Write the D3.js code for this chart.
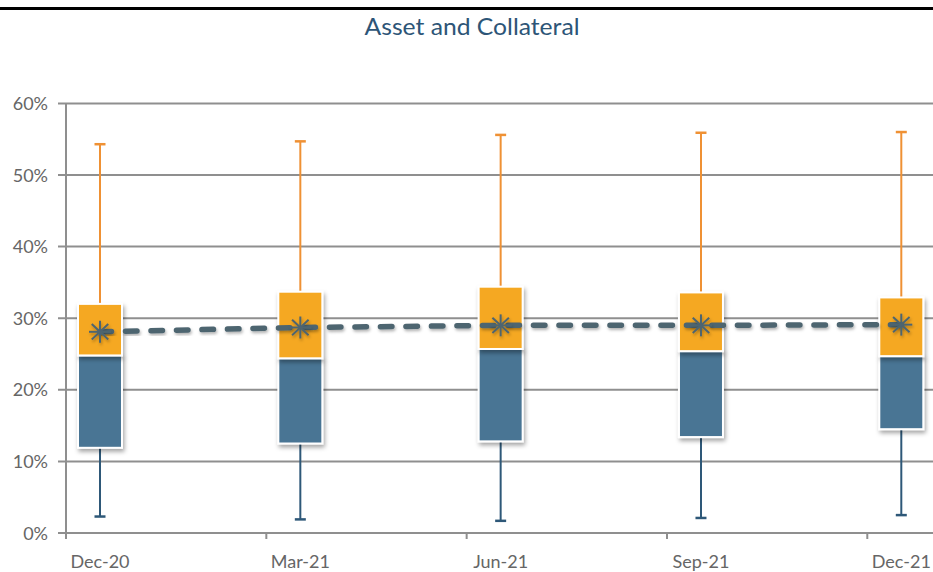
<!DOCTYPE html>
<html>
<head>
<meta charset="utf-8">
<script src="https://cdn.jsdelivr.net/npm/d3@7"></script>
<style>
  html, body { margin: 0; padding: 0; background: #ffffff; }
  svg { display: block; font-family: Lato, "Open Sans", "DejaVu Sans", sans-serif; }
</style>
</head>
<body>
<svg id="chart" width="933" height="572"></svg>
<script>
const categories = ["Dec-20", "Mar-21", "Jun-21", "Sep-21", "Dec-21"];
const minValues    = [0.023, 0.019, 0.017, 0.021, 0.025];
const q1Values     = [0.119, 0.125, 0.128, 0.134, 0.145];
const medianValues = [0.248, 0.244, 0.257, 0.254, 0.247];
const q3Values     = [0.320, 0.337, 0.344, 0.336, 0.329];
const maxValues    = [0.543, 0.547, 0.556, 0.559, 0.560];
const meanValues   = [0.281, 0.287, 0.290, 0.290, 0.291];
const yTicks = [0, 0.1, 0.2, 0.3, 0.4, 0.5, 0.6];

const data = categories.map((c, i) => ({
  cat: c, min: minValues[i], q1: q1Values[i], med: medianValues[i],
  q3: q3Values[i], max: maxValues[i], mean: meanValues[i]
}));

const svg = d3.select("#chart");
const W = 933;

const x = d3.scalePoint().domain(categories).range([100, 901.3]);
const y = d3.scaleLinear().domain([0, 0.6]).range([533, 103.4]);
const tickOffset = -34;
const boxW = 44;

const defs = svg.append("defs");
const f = defs.append("filter").attr("id", "shadow")
  .attr("x", "-30%").attr("y", "-30%").attr("width", "160%").attr("height", "160%");
f.append("feDropShadow").attr("dx", 1.5).attr("dy", 3).attr("stdDeviation", 2)
  .attr("flood-color", "#000").attr("flood-opacity", 0.35);
const f2 = defs.append("filter").attr("id", "shadow2")
  .attr("x", "-50%").attr("y", "-50%").attr("width", "200%").attr("height", "200%");
f2.append("feDropShadow").attr("dx", 1).attr("dy", 2).attr("stdDeviation", 1.5)
  .attr("flood-color", "#000").attr("flood-opacity", 0.3);

// top border line
svg.append("line").attr("x1", 0).attr("x2", W).attr("y1", 8.5).attr("y2", 8.5)
  .attr("stroke", "#000").attr("stroke-width", 3);

// title
svg.append("text").attr("x", 472).attr("y", 35).attr("text-anchor", "middle")
  .attr("font-size", 24).attr("fill", "#2d5577")
  .attr("textLength", 215).attr("lengthAdjust", "spacingAndGlyphs")
  .text("Asset and Collateral");

// gridlines + y labels
const gridColor = "#8f8f8f";
svg.append("g").selectAll("line").data(yTicks).join("line")
  .attr("x1", 58).attr("x2", W)
  .attr("y1", d => y(d)).attr("y2", d => y(d))
  .attr("stroke", gridColor).attr("stroke-width", 2);

svg.append("g").selectAll("text").data(yTicks).join("text")
  .attr("x", 48).attr("y", d => y(d) + 6.5).attr("text-anchor", "end")
  .attr("font-size", 18).attr("fill", "#666666")
  .text(d => d3.format(".0%")(d));

// y axis line
svg.append("line").attr("x1", 66).attr("x2", 66).attr("y1", y(0.6)).attr("y2", y(0) + 1)
  .attr("stroke", gridColor).attr("stroke-width", 2);

// x axis ticks and labels
const xAxis = svg.append("g");
xAxis.selectAll("line").data(categories).join("line")
  .attr("x1", d => x(d) + tickOffset).attr("x2", d => x(d) + tickOffset)
  .attr("y1", y(0)).attr("y2", y(0) + 6)
  .attr("stroke", gridColor).attr("stroke-width", 2);
xAxis.selectAll("text").data(categories).join("text")
  .attr("x", d => x(d)).attr("y", 568).attr("text-anchor", "middle")
  .attr("font-size", 18).attr("fill", "#666666").text(d => d);

// whiskers
const g = svg.append("g");
const capW = 11;
data.forEach(d => {
  const cx = x(d.cat);
  g.append("line").attr("x1", cx).attr("x2", cx).attr("y1", y(d.max)).attr("y2", y(d.q3))
    .attr("stroke", "#ef9134").attr("stroke-width", 2);
  g.append("line").attr("x1", cx - capW / 2).attr("x2", cx + capW / 2)
    .attr("y1", y(d.max)).attr("y2", y(d.max))
    .attr("stroke", "#ef9134").attr("stroke-width", 2.5);
  g.append("line").attr("x1", cx).attr("x2", cx).attr("y1", y(d.q1)).attr("y2", y(d.min))
    .attr("stroke", "#2e5878").attr("stroke-width", 2);
  g.append("line").attr("x1", cx - capW / 2).attr("x2", cx + capW / 2)
    .attr("y1", y(d.min)).attr("y2", y(d.min))
    .attr("stroke", "#2e5878").attr("stroke-width", 2.5);
});

// boxes
const boxes = svg.append("g");
data.forEach(d => {
  const cx = x(d.cat);
  boxes.append("rect").attr("x", cx - boxW / 2).attr("width", boxW)
    .attr("y", y(d.med)).attr("height", y(d.q1) - y(d.med))
    .attr("fill", "#4a7594").attr("stroke", "#fff").attr("stroke-width", 2)
    .attr("filter", "url(#shadow)");
  boxes.append("rect").attr("x", cx - boxW / 2).attr("width", boxW)
    .attr("y", y(d.q3)).attr("height", y(d.med) - y(d.q3))
    .attr("fill", "#f5a824").attr("stroke", "#fff").attr("stroke-width", 2)
    .attr("filter", "url(#shadow)");
});

// mean dashed line
const line = d3.line().x(d => x(d.cat)).y(d => y(d.mean));
svg.append("path").datum(data).attr("d", line)
  .attr("fill", "none").attr("stroke", "#4e6570").attr("stroke-width", 5.5)
  .attr("stroke-dasharray", "11.5,14").attr("stroke-linecap", "round")
  .attr("filter", "url(#shadow2)");

// star markers
const mk = svg.append("g");
data.forEach(d => {
  const cx = x(d.cat), cy = y(d.mean), r = 11;
  const m = mk.append("g").attr("transform", `translate(${cx},${cy})`)
    .attr("filter", "url(#shadow2)");
  [[0, -r, 0, r], [-r * 0.75, -r * 0.7, r * 0.75, r * 0.7], [-r * 0.75, r * 0.7, r * 0.75, -r * 0.7], [-r, 0, r, 0]]
    .forEach(s => m.append("line").attr("x1", s[0]).attr("y1", s[1]).attr("x2", s[2]).attr("y2", s[3])
      .attr("stroke", "#4e6570").attr("stroke-width", 2));
});
</script>
</body>
</html>
